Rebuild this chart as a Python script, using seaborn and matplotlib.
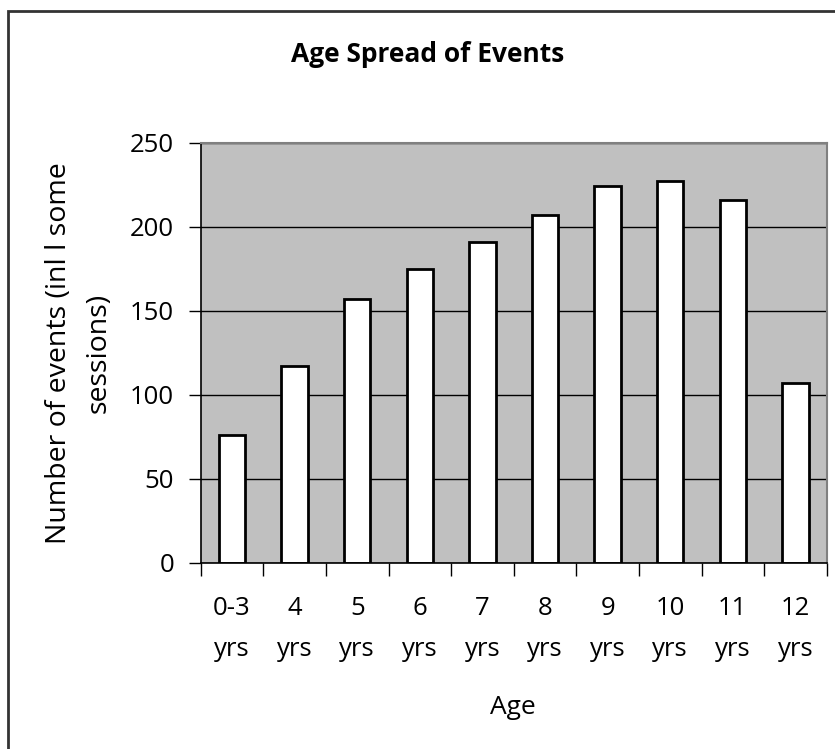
import matplotlib
matplotlib.use("Agg")
import matplotlib.pyplot as plt
import numpy as np
import pandas as pd
import seaborn as sns
from matplotlib.patches import Rectangle

# Data
ages = ["0-3\nyrs", "4\nyrs", "5\nyrs", "6\nyrs", "7\nyrs", "8\nyrs", "9\nyrs", "10\nyrs", "11\nyrs", "12\nyrs"]
events = [76, 117, 157, 175, 191, 207, 224, 227, 216, 107]
y_ticks = [0, 50, 100, 150, 200, 250]

df = pd.DataFrame({"age": ages, "events": events})

plt.rcParams["font.family"] = ["Open Sans", "DejaVu Sans"]

W, H = 835, 749
fig = plt.figure(figsize=(W / 100, H / 100), dpi=100)

# plot area in pixel coordinates (left, top, right, bottom)
left, top, right, bottom = 200.7, 142.7, 826.7, 563.0
ax = fig.add_axes([left / W, 1 - bottom / H, (right - left) / W, (bottom - top) / H])
ax.set_facecolor("#C0C0C0")

sns.barplot(
    data=df,
    x="age",
    y="events",
    color="white",
    saturation=1,
    edgecolor="black",
    linewidth=2,
    width=0.42,
    ax=ax,
)

ax.set_xlim(-0.5, len(ages) - 0.5)
ax.set_ylim(0, 250)
ax.set_yticks(y_ticks)
ax.yaxis.grid(True, color="black", linewidth=1)
ax.set_axisbelow(True)

# category boundaries get the tick marks, like Excel
ax.set_xticks(np.arange(-0.5, len(ages), 1), minor=True)
ax.tick_params(axis="x", which="major", length=0, pad=24, labelsize=18.5)
ax.tick_params(axis="x", which="minor", length=9, width=1, direction="out")
ax.tick_params(axis="y", length=9, width=1, direction="out", pad=10, labelsize=18.5)
for lbl in ax.get_xticklabels():
    lbl.set_linespacing(1.8)

ax.set_xlabel("")
ax.set_ylabel("")
for side in ["left", "bottom"]:
    ax.spines[side].set_color("black")
    ax.spines[side].set_linewidth(1.2)
for side in ["top", "right"]:
    ax.spines[side].set_color("#808080")
    ax.spines[side].set_linewidth(1.5)

fig.text(428 / W, 1 - 55 / H, "Age Spread of Events", ha="center", va="center",
         fontsize=19, fontweight="bold")
fig.text(79 / W, 1 - 353 / H, "Number of events (inl l some\nsessions)", rotation=90,
         ha="center", va="center", multialignment="center", fontsize=20.5, linespacing=1.55)
fig.text(513 / W, 1 - 708 / H, "Age", ha="center", va="center", fontsize=19)

# outer chart border (left and top visible, runs off the right/bottom)
fig.patches.append(Rectangle((8 / W, -0.05), 1.0, 1 - 11 / H + 0.05, transform=fig.transFigure,
                             fill=False, edgecolor="#333333", linewidth=2))

fig.savefig("out.png", dpi=100)
